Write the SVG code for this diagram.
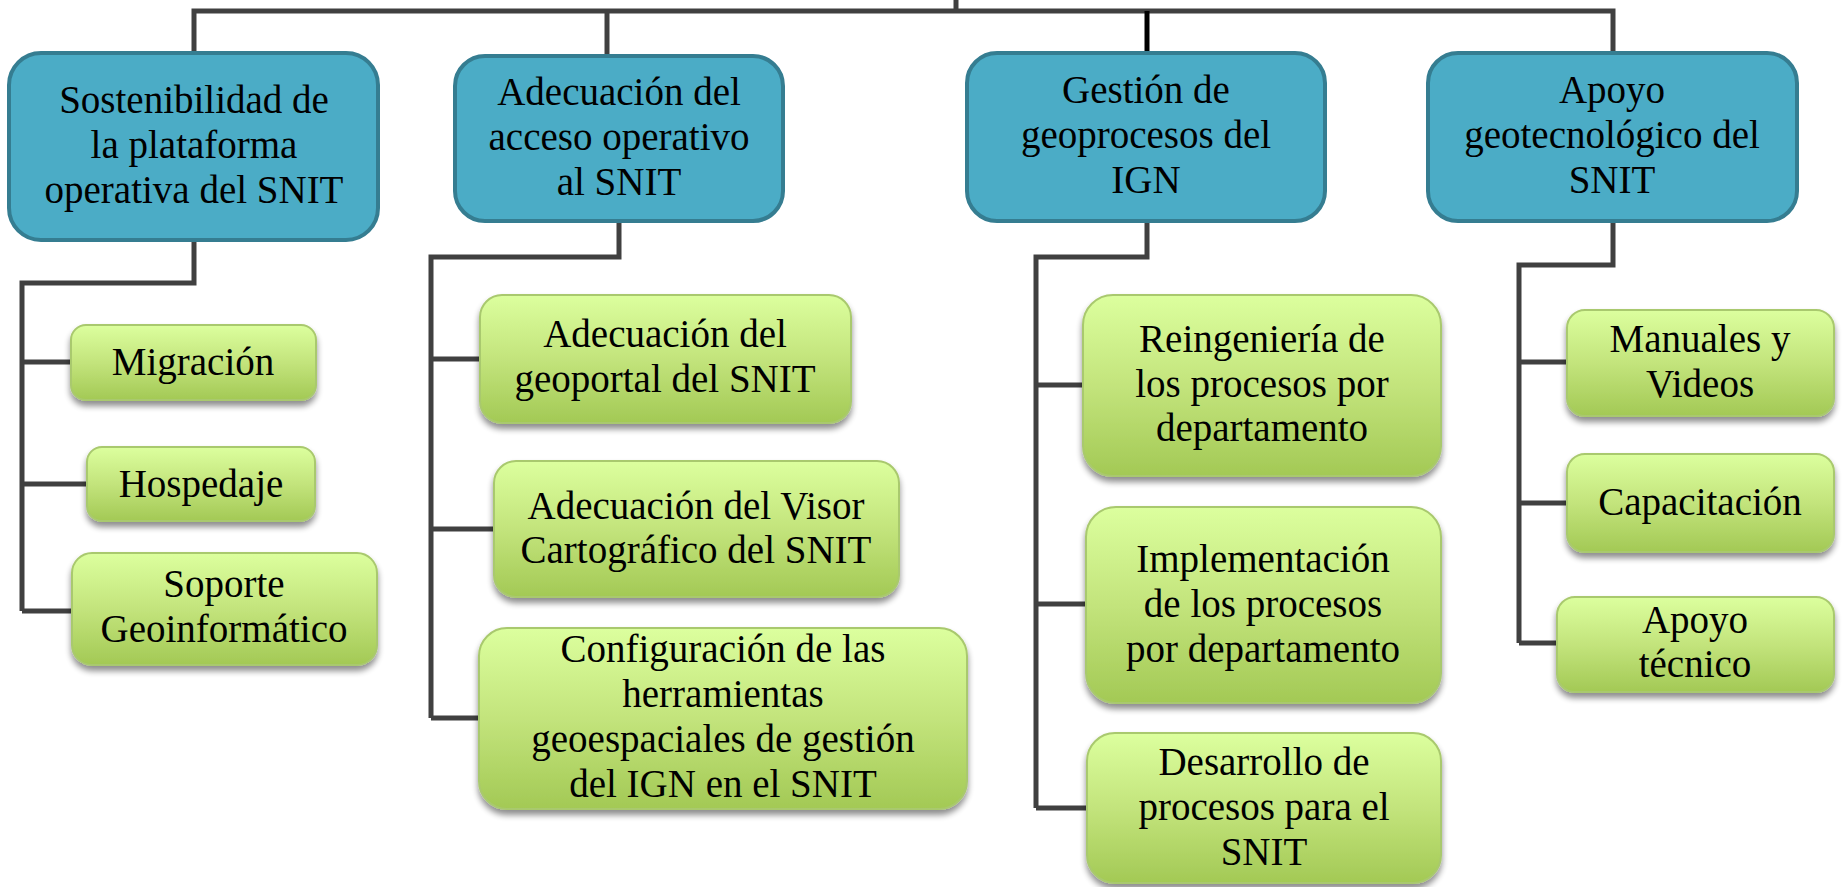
<svg xmlns="http://www.w3.org/2000/svg" width="1843" height="887" viewBox="0 0 1843 887">
<defs>
<linearGradient id="gGreen" x1="0" y1="0" x2="0" y2="1">
<stop offset="0" stop-color="#DCFF9E"/>
<stop offset="0.5" stop-color="#C3E47C"/>
<stop offset="1" stop-color="#A3C955"/>
</linearGradient>
<filter id="shadow" x="-10%" y="-10%" width="120%" height="130%">
<feGaussianBlur in="SourceAlpha" stdDeviation="3"/>
<feOffset dx="0" dy="5" result="b"/>
<feComponentTransfer><feFuncA type="linear" slope="0.45"/></feComponentTransfer>
<feMerge><feMergeNode/><feMergeNode in="SourceGraphic"/></feMerge>
</filter>
</defs>
<style>
.conn{fill:none;stroke:#404040;stroke-width:5;stroke-linejoin:miter;stroke-linecap:butt}
.dark{stroke:#000000}
.blue{fill:#4BACC6;stroke:#357D91;stroke-width:4}
.green{fill:url(#gGreen);stroke:#A9C96E;stroke-width:2;filter:url(#shadow)}
text{font-family:"Liberation Serif","Times New Roman",serif;font-size:39px;fill:#000;text-anchor:middle}
</style>
<rect width="1843" height="887" fill="#FFFFFF"/>
<g id="connectors">
<path class="conn" d="M956,0 V11"/>
<path class="conn" d="M194,53 V11 H1613 V53"/>
<path class="conn" d="M607,11 V56"/>
<path class="conn dark" d="M1147,11 V53"/>
<path class="conn" d="M194,240 V283 H22 V611"/>
<path class="conn" d="M22,362 H71 M22,484 H87 M22,611 H72"/>
<path class="conn" d="M619,221 V257 H431 V718"/>
<path class="conn" d="M431,359 H480 M431,529 H494 M431,718 H479"/>
<path class="conn" d="M1147,221 V257 H1036 V808"/>
<path class="conn" d="M1036,385 H1083 M1036,604 H1086 M1036,808 H1087"/>
<path class="conn" d="M1613,221 V265 H1519 V643"/>
<path class="conn" d="M1519,362 H1567 M1519,503 H1567 M1519,643 H1557"/>
</g>
<g id="n-sostenibilidad">
<rect class="blue" x="9" y="53" width="369" height="187" rx="32"/>
<text x="194" y="113">Sostenibilidad de</text>
<text x="194" y="158">la plataforma</text>
<text x="194" y="203">operativa del SNIT</text>
</g>
<g id="n-adecuacion-acceso">
<rect class="blue" x="455" y="56" width="328" height="165" rx="30"/>
<text x="619" y="105">Adecuación del</text>
<text x="619" y="150">acceso operativo</text>
<text x="619" y="195">al SNIT</text>
</g>
<g id="n-gestion">
<rect class="blue" x="967" y="53" width="358" height="168" rx="30"/>
<text x="1146" y="103">Gestión de</text>
<text x="1146" y="148">geoprocesos del</text>
<text x="1146" y="193">IGN</text>
</g>
<g id="n-apoyo-geo">
<rect class="blue" x="1428" y="53" width="369" height="168" rx="30"/>
<text x="1612" y="103">Apoyo</text>
<text x="1612" y="148">geotecnológico del</text>
<text x="1612" y="193">SNIT</text>
</g>
<g id="n-migracion">
<rect class="green" x="71" y="325" width="245" height="75" rx="15"/>
<text x="193" y="375">Migración</text>
</g>
<g id="n-hospedaje">
<rect class="green" x="87" y="447" width="228" height="74" rx="15"/>
<text x="201" y="497">Hospedaje</text>
</g>
<g id="n-soporte">
<rect class="green" x="72" y="553" width="305" height="112" rx="20"/>
<text x="224" y="597">Soporte</text>
<text x="224" y="642">Geoinformático</text>
</g>
<g id="n-geoportal">
<rect class="green" x="480" y="295" width="371" height="128" rx="22"/>
<text x="665" y="347">Adecuación del</text>
<text x="665" y="392">geoportal del SNIT</text>
</g>
<g id="n-visor">
<rect class="green" x="494" y="461" width="405" height="136" rx="22"/>
<text x="696" y="519">Adecuación del Visor</text>
<text x="696" y="563">Cartográfico del SNIT</text>
</g>
<g id="n-configuracion">
<rect class="green" x="479" y="628" width="488" height="181" rx="28"/>
<text x="723" y="662">Configuración de las</text>
<text x="723" y="707">herramientas</text>
<text x="723" y="752">geoespaciales de gestión</text>
<text x="723" y="797">del IGN en el SNIT</text>
</g>
<g id="n-reingenieria">
<rect class="green" x="1083" y="295" width="358" height="181" rx="30"/>
<text x="1262" y="352">Reingeniería de</text>
<text x="1262" y="397">los procesos por</text>
<text x="1262" y="441">departamento</text>
</g>
<g id="n-implementacion">
<rect class="green" x="1086" y="507" width="355" height="196" rx="30"/>
<text x="1263" y="572">Implementación</text>
<text x="1263" y="617">de los procesos</text>
<text x="1263" y="662">por departamento</text>
</g>
<g id="n-desarrollo">
<rect class="green" x="1087" y="733" width="354" height="150" rx="28"/>
<text x="1264" y="775">Desarrollo de</text>
<text x="1264" y="820">procesos para el</text>
<text x="1264" y="865">SNIT</text>
</g>
<g id="n-manuales">
<rect class="green" x="1567" y="310" width="267" height="106" rx="18"/>
<text x="1700" y="352">Manuales y</text>
<text x="1700" y="397">Videos</text>
</g>
<g id="n-capacitacion">
<rect class="green" x="1567" y="454" width="267" height="98" rx="18"/>
<text x="1700" y="515">Capacitación</text>
</g>
<g id="n-apoyo-tecnico">
<rect class="green" x="1557" y="597" width="277" height="95" rx="18"/>
<text x="1695" y="633">Apoyo</text>
<text x="1695" y="677">técnico</text>
</g>
</svg>
